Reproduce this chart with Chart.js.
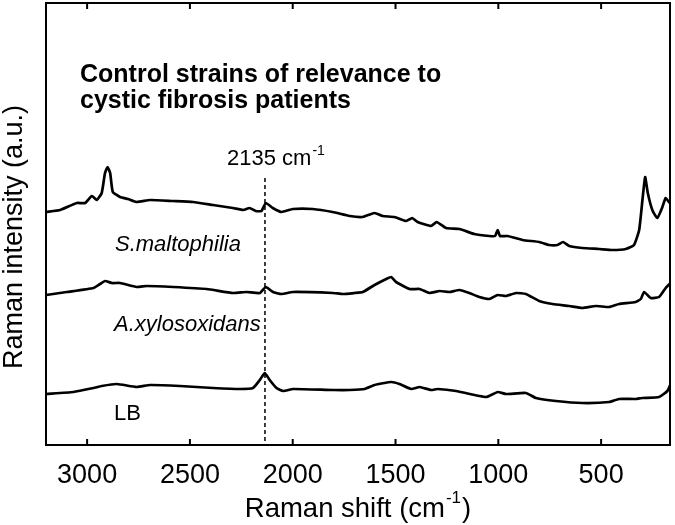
<!DOCTYPE html>
<html>
<head>
<meta charset="utf-8">
<script src="https://cdn.jsdelivr.net/npm/chart.js@4.4.1/dist/chart.umd.min.js"></script>
<style>
  html, body { margin: 0; padding: 0; background: #fff; }
  #wrap { width: 675px; height: 525px; }
</style>
</head>
<body>
<div id="wrap"><canvas id="raman_chart"></canvas></div>
<script>
// spectra (shift in cm-1, intensity in arbitrary offset units)
var smShift = [3199, 3131, 3050, 3010, 2977, 2953, 2929, 2913, 2901, 2888, 2875, 2840, 2801, 2759, 2694, 2583, 2485, 2388, 2291, 2240, 2210, 2180, 2152, 2131, 2097, 2055, 1999, 1903, 1806, 1723, 1660, 1602, 1563, 1505, 1448, 1419, 1393, 1327, 1300, 1254, 1189, 1117, 1044, 1016, 1003, 992, 955, 882, 801, 752, 712, 685, 655, 591, 510, 445, 380, 340, 315, 299, 286, 273, 251, 227, 202, 186, 167];
var smIntensity = [233, 235, 242, 242, 249, 245, 252, 272, 278, 272, 253, 248, 246, 243, 245, 244, 243, 240, 237, 235, 237, 234, 234, 242, 237, 233, 236, 236, 233, 229, 228, 232, 229, 228, 224, 227, 223, 219, 223, 217, 216, 211, 209, 209, 215, 209, 209, 205, 203, 200, 200, 203, 199, 197, 196, 195, 196, 200, 215, 245, 268, 252, 235, 227, 238, 247, 242];

var axShift = [3199, 3099, 2969, 2937, 2913, 2880, 2840, 2759, 2710, 2581, 2419, 2290, 2225, 2160, 2131, 2096, 2055, 1999, 1804, 1756, 1700, 1659, 1602, 1545, 1521, 1497, 1432, 1383, 1335, 1286, 1238, 1189, 1141, 1092, 1044, 1003, 963, 914, 866, 801, 736, 655, 591, 526, 461, 413, 332, 307, 291, 259, 218, 186, 162];
var axIntensity = [150, 153, 157, 161, 164, 162, 162, 158, 159, 158, 156, 152, 153, 152, 158, 153, 151, 153, 152, 151, 152, 153, 160, 166, 168, 163, 156, 156, 152, 154, 153, 155, 152, 148, 146, 150, 149, 152, 151, 144, 141, 139, 137, 139, 138, 141, 143, 146, 153, 147, 148, 157, 162];

var lbShift = [3199, 3067, 2969, 2929, 2856, 2759, 2694, 2549, 2387, 2257, 2193, 2160, 2136, 2112, 2079, 2047, 1999, 1804, 1723, 1650, 1602, 1521, 1481, 1424, 1383, 1327, 1295, 1205, 1060, 1003, 963, 866, 817, 720, 591, 461, 413, 332, 300, 218, 178, 162];
var lbIntensity = [51, 53, 57, 59, 61, 58, 60, 59, 57, 56, 57, 65, 72, 65, 57, 54, 56, 55, 55, 56, 60, 63, 61, 56, 58, 55, 56, 54, 48, 53, 51, 52, 47, 44, 42, 43, 46, 46, 47, 48, 54, 61];

var xTickValues = [3000, 2500, 2000, 1500, 1000, 500];
var markerShift = 2135;

var ctx = document.getElementById('raman_chart').getContext('2d');
var FONT = 'Arial, "Liberation Sans", sans-serif';

function toPoints(xs, ys) {
    return xs.map(function (x, i) { return { x: x, y: ys[i] }; });
}

// draws the frame, inward ticks, the 2135 marker and all the labels
var decorations = {
    id: 'decorations',
    afterDraw: function (chart) {
        var c = chart.ctx;
        var area = chart.chartArea;
        var xs = chart.scales.x;
        var ys = chart.scales.y;
        c.save();

        // frame
        c.strokeStyle = '#000';
        c.lineWidth = 2;
        c.strokeRect(area.left, area.top, area.right - area.left, area.bottom - area.top);

        // inward tick marks top and bottom
        xTickValues.forEach(function (v) {
            var px = xs.getPixelForValue(v);
            c.beginPath();
            c.moveTo(px, area.bottom);
            c.lineTo(px, area.bottom - 6);
            c.moveTo(px, area.top);
            c.lineTo(px, area.top + 6);
            c.stroke();
        });

        // dashed marker line
        var mx = xs.getPixelForValue(markerShift);
        c.lineWidth = 1.5;
        c.setLineDash([4, 3]);
        c.beginPath();
        c.moveTo(mx, ys.getPixelForValue(267));
        c.lineTo(mx, area.bottom);
        c.stroke();
        c.setLineDash([]);

        c.fillStyle = '#000';
        c.textBaseline = 'alphabetic';
        c.textAlign = 'left';

        // title
        c.font = 'bold 25px ' + FONT;
        c.fillText('Control strains of relevance to', 80, 82);
        c.fillText('cystic fibrosis patients', 80, 108);

        // marker label with superscript
        c.font = '22px ' + FONT;
        var lbl = markerShift + ' cm';
        c.fillText(lbl, 227, 165);
        var w = c.measureText(lbl).width;
        c.font = '14px ' + FONT;
        c.fillText('-1', 227 + w + 1, 155);

        // series labels
        c.font = 'italic 22px ' + FONT;
        c.fillText('S.maltophilia', 115, 251);
        c.fillText('A.xylosoxidans', 114, 331);
        c.font = '22px ' + FONT;
        c.fillText('LB', 114, 420);

        // x axis title
        var big = '27.5px ' + FONT, small = '17px ' + FONT;
        c.font = big;
        var t1 = 'Raman shift (cm';
        var w1 = c.measureText(t1).width;
        var wEnd = c.measureText(')').width;
        c.font = small;
        var wSup = c.measureText('-1').width;
        var total = w1 + wSup + 2 + wEnd;
        var x0 = (area.left + area.right) / 2 - total / 2;
        c.font = big;
        c.fillText(t1, x0, 517);
        c.fillText(')', x0 + w1 + wSup + 2, 517);
        c.font = small;
        c.fillText('-1', x0 + w1 + 1, 503);

        // y axis title
        c.translate(22, 237);
        c.rotate(-Math.PI / 2);
        c.font = '27px ' + FONT;
        c.textAlign = 'center';
        c.fillText('Raman intensity (a.u.)', 0, 0);

        c.restore();
    }
};

var ramanChart = new Chart(ctx, {
    type: 'line',
    data: {
        datasets: [
            { label: 'S.maltophilia', data: toPoints(smShift, smIntensity) },
            { label: 'A.xylosoxidans', data: toPoints(axShift, axIntensity) },
            { label: 'LB', data: toPoints(lbShift, lbIntensity) }
        ].map(function (d) {
            d.borderColor = '#000';
            d.borderWidth = 2.7;
            d.pointRadius = 0;
            d.tension = 0.15;
            d.fill = false;
            return d;
        })
    },
    options: {
        responsive: true,
        maintainAspectRatio: false,
        animation: false,
        layout: { padding: { top: 3, right: 5, left: 0, bottom: 0 } },
        plugins: {
            legend: { display: false },
            tooltip: { enabled: false }
        },
        scales: {
            x: {
                type: 'linear',
                reverse: true,
                min: 165,
                max: 3200,
                grid: { display: false },
                border: { display: false },
                afterBuildTicks: function (scale) {
                    scale.ticks = xTickValues.map(function (v) { return { value: v }; });
                },
                afterFit: function (scale) { scale.height = 80; },
                ticks: {
                    color: '#000',
                    padding: 6,
                    font: { family: FONT, size: 27 },
                    callback: function (v) { return String(v); }
                }
            },
            y: {
                min: 0,
                max: 442,
                grid: { display: false },
                border: { display: false },
                ticks: { display: false },
                afterFit: function (scale) { scale.width = 46; }
            }
        }
    },
    plugins: [decorations]
});
</script>
</body>
</html>
